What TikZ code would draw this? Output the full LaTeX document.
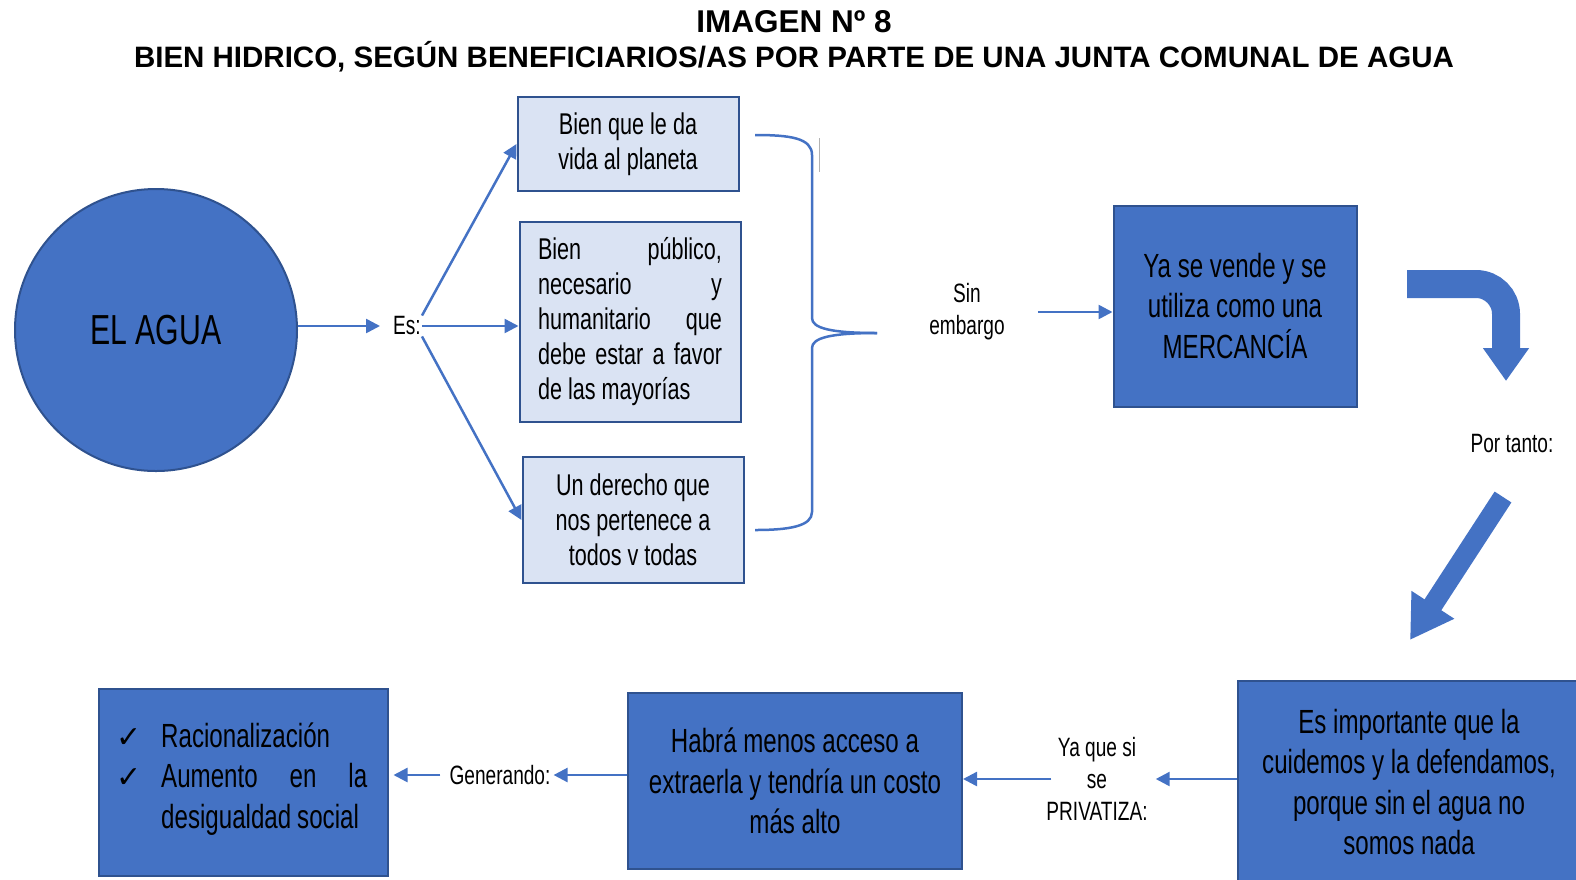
\documentclass[tikz,border=0pt]{standalone}
\usepackage{fontspec}
\setmainfont{Liberation Sans}
\newfontfamily\nar[FakeStretch=0.72]{Liberation Sans}
\newfontfamily\djv{DejaVu Sans}
\usetikzlibrary{arrows.meta,calc}
\definecolor{mblue}{HTML}{4472C4}
\definecolor{dblue}{HTML}{2F528F}
\definecolor{lblue}{HTML}{DAE3F3}
\newcommand{\ck}{{\djv\fontsize{30}{30}\selectfont ✓}}
\begin{document}
\begin{tikzpicture}[x=1pt,y=-1pt,
  darkbox/.style={draw=dblue, line width=2pt, fill=mblue, inner sep=0pt, align=center},
  lightbox/.style={draw=dblue, line width=2pt, fill=lblue, inner sep=0pt, align=center},
  conn/.style={draw=mblue, line width=2.5pt, -{Triangle[length=14pt,width=14pt]}},
  lbl/.style={font=\nar\fontsize{26.5}{32}\selectfont, align=center, inner sep=1pt},
  ltxt/.style={font=\nar\fontsize{30}{35}\selectfont},
  btxt/.style={font=\nar\fontsize{33.5}{40.5}\selectfont},
  fatarrow/.style={draw=mblue, line cap=butt},
]
\useasboundingbox (0,0) rectangle (1576,879);
% title
\node (t1) at (794,22) {\bfseries\fontsize{31.5}{34}\selectfont IMAGEN Nº 8};
\node (t2) at (794,57) {\bfseries\fontsize{29.5}{32}\selectfont BIEN HIDRICO, SEGÚN BENEFICIARIOS/AS POR PARTE DE UNA JUNTA COMUNAL DE AGUA};
% circle
\node[circle, draw=dblue, line width=2pt, fill=mblue, minimum size=282pt, inner sep=0pt,
      font=\nar\fontsize{42}{42}\selectfont] (agua) at (156,330) {EL AGUA};
\node[lbl] (es) at (407,326) {Es:};
% light boxes
\node[lightbox, ltxt, minimum width=221pt, minimum height=94pt] (b1) at (628,144) {Bien que le da\\vida al planeta};
\node[lightbox, ltxt, minimum width=221pt, minimum height=200pt] (b2) at (630,322)
 {\begin{minipage}{184pt}\raggedright
  \makebox[184pt][s]{Bien\hfill público,}\\
  \makebox[184pt][s]{necesario\hfill y}\\
  \makebox[184pt][s]{humanitario\hfill que}\\
  \makebox[184pt][s]{debe\hfill estar\hfill a\hfill favor}\\
  de las mayorías\end{minipage}};
\node[lightbox, ltxt, minimum width=221pt, minimum height=126pt] (b3) at (633,520) {Un derecho que\\nos pertenece a\\todos v todas};
\draw[conn, shorten >=12pt] (agua.east |- es.west) -- (es.west);
\draw[conn] (es.north east) -- (b1.west);
\draw[conn] (es.east) -- (es.east -| b2.west);
\draw[conn] (es.south east) -- (b3.west);
% brace
\coordinate (br0) at (755,135);
\coordinate (br1) at (755,530);
\coordinate (brt) at (877,333);
\draw[mblue, line width=2.5pt] (br0) .. controls (790,135) and (812,138) .. (812,155)
  -- (812,318) .. controls (812,328) and (830,333) .. (brt);
\draw[mblue, line width=2.5pt] (brt) .. controls (830,333) and (812,338) .. (812,348)
  -- (812,512) .. controls (812,526) and (790,530) .. (br1);
\draw[gray!60, line width=1pt] (819,138) -- (819,172);
\node[lbl] (sin) at (967,312) {Sin\\embargo};
\node[darkbox, btxt, minimum width=243pt, minimum height=201pt] (ya) at (1235,306) {Ya se vende y se\\utiliza como una\\MERCANCÍA};
\draw[conn, shorten <=32pt] (sin.east) -- (sin.east -| ya.west);
% bent fat arrow
\coordinate (ba0) at (1407,284);
\coordinate (ba1) at (1506,284);
\coordinate (ba2) at (1506,381);
\draw[fatarrow, line width=28pt, rounded corners=30pt, -{Triangle[length=33pt,width=44pt]}] (ba0) -- (ba1) -- (ba2);
\node[lbl] (pt) at (1512,444) {Por tanto:};
% diagonal fat arrow
\coordinate (da0) at (1503,497);
\coordinate (da1) at (1410,640);
\draw[fatarrow, line width=20pt, -{Triangle[length=42pt,width=48pt]}] (da0) -- (da1);
% bottom row
\node[darkbox, minimum width=350pt, minimum height=204pt] (imp) at (1413,783) {};
\node[btxt, align=center, inner sep=0pt] (impt) at (1409,782) {Es importante que la\\cuidemos y la defendamos,\\porque sin el agua no\\somos nada};
\node[lbl] (yaque) at (1097,779) {Ya que si\\se\\PRIVATIZA:};
\node[darkbox, btxt, minimum width=334pt, minimum height=176pt] (habra) at (795,781) {Habrá menos acceso a\\extraerla y tendría un costo\\más alto};
\node[lbl] (gen) at (500,775) {Generando:};
\node[darkbox, minimum width=289pt, minimum height=187pt] (res) at (243,782) {};
\node[btxt, anchor=west, inner sep=0pt, text width=250pt, align=left] (rest) at (116,779)
 {\makebox[45pt][l]{\ck}\mbox{Racionalización}\\
  \makebox[45pt][l]{\ck}\makebox[206pt][s]{Aumento\hfill en\hfill la}\\
  \hspace*{45pt}\mbox{desigualdad\hspace{6pt}social}};
\draw[conn, shorten >=7pt] (imp.west |- yaque.east) -- (yaque.east);
\draw[conn, shorten <=-6pt] (yaque.west) -- (yaque.west -| habra.east);
\draw[conn, shorten >=2pt] (habra.west |- gen.east) -- (gen.east);
\draw[conn, shorten <=8pt, shorten >=5pt] (gen.west) -- (gen.west -| res.east);
\end{tikzpicture}
\end{document}
